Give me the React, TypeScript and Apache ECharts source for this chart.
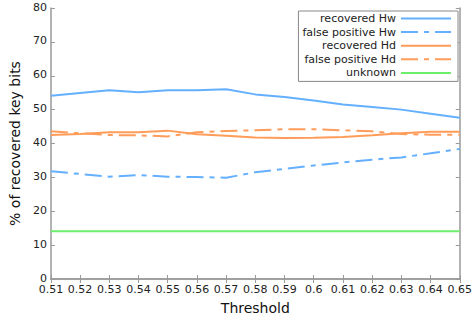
import React, { useEffect, useRef } from "react";
import * as echarts from "echarts";

const thresholds = ["0.51", "0.52", "0.53", "0.54", "0.55", "0.56", "0.57", "0.58", "0.59", "0.6", "0.61", "0.62", "0.63", "0.64", "0.65"];
const recoveredHw = [54.1, 54.9, 55.7, 55.1, 55.7, 55.7, 56.0, 54.5, 53.7, 52.7, 51.5, 50.8, 50.0, 48.8, 47.6];
const falsePositiveHw = [31.8, 31.0, 30.2, 30.7, 30.2, 30.1, 29.9, 31.5, 32.5, 33.5, 34.4, 35.2, 35.9, 37.1, 38.4];
const recoveredHd = [42.5, 42.8, 43.3, 43.3, 43.8, 42.7, 42.3, 41.8, 41.6, 41.7, 41.9, 42.4, 43.0, 43.5, 43.5];
const falsePositiveHd = [43.6, 43.0, 42.5, 42.4, 42.1, 43.3, 43.7, 43.9, 44.2, 44.2, 43.9, 43.6, 42.8, 42.6, 42.6];
const unknown = [14.1, 14.1, 14.1, 14.1, 14.1, 14.1, 14.1, 14.1, 14.1, 14.1, 14.1, 14.1, 14.1, 14.1, 14.1];
const yTicks = [0, 80, 10];

const BLUE = "#64b0ff";
const ORANGE = "#ff9c5a";
const GREEN = "#6cee6c";
const AXIS = "#9a9a9a";
const FONT = "DejaVu Sans";
const DASHDOT = [17, 6, 5, 6];

export default function App() {
  const ref = useRef<HTMLDivElement>(null);
  useEffect(() => {
    const chart = echarts.init(ref.current!, null, { renderer: "svg" });
    const mk = (name: string, data: number[], color: string, dash: any) => ({
      name,
      type: "line",
      data,
      symbol: "none",
      smooth: false,
      lineStyle: { color, width: 2, type: dash },
      itemStyle: { color },
      xAxisIndex: 0,
      yAxisIndex: 0,
    });
    chart.setOption({
      animation: false,
      textStyle: { fontFamily: FONT },
      grid: { left: 39, top: 8, right: 11, bottom: 35 },
      legend: {
        orient: "vertical",
        right: 17,
        top: 11,
        align: "right",
        itemWidth: 50,
        itemHeight: 10,
        itemGap: 2.6,
        padding: [2, 6, 3, 4],
        borderColor: "#888",
        borderWidth: 1,
        backgroundColor: "#fff",
        borderRadius: 0,
        itemStyle: { opacity: 0 },
        textStyle: { fontFamily: FONT, fontSize: 11, color: "#222", width: 96, align: "right", padding: [0, 0, 0, 0] },
        data: ["recovered Hw", "false positive Hw", "recovered Hd", "false positive Hd", "unknown"],
      },
      xAxis: [
        {
          type: "category",
          data: thresholds,
          boundaryGap: false,
          name: "Threshold",
          nameLocation: "middle",
          nameGap: 22,
          nameTextStyle: { fontFamily: FONT, fontSize: 14, color: "#111" },
          axisLine: { lineStyle: { color: AXIS, width: 1.5 } },
          axisTick: { inside: true, length: 4, lineStyle: { color: AXIS } },
          axisLabel: { fontFamily: FONT, fontSize: 11, color: "#222", margin: 5, interval: 0 },
          splitLine: { show: false },
        },
        {
          type: "category",
          data: thresholds,
          boundaryGap: false,
          position: "top",
          axisLine: { lineStyle: { color: AXIS, width: 1.5 } },
          axisTick: { inside: true, length: 4, lineStyle: { color: AXIS }, interval: 0 },
          axisLabel: { show: false },
          splitLine: { show: false },
        },
      ],
      yAxis: [
        {
          type: "value",
          min: yTicks[0],
          max: yTicks[1],
          interval: yTicks[2],
          name: "% of recovered key bits",
          nameLocation: "middle",
          nameGap: 24,
          nameTextStyle: { fontFamily: FONT, fontSize: 14, color: "#111" },
          axisLine: { show: true, lineStyle: { color: AXIS, width: 1.5 } },
          axisTick: { show: true, inside: true, length: 4, lineStyle: { color: AXIS } },
          axisLabel: { fontFamily: FONT, fontSize: 11, color: "#222", margin: 4, verticalAlign: "bottom", lineHeight: 14, padding: [0, 0, -6, 0] },
          splitLine: { show: false },
        },
        {
          type: "value",
          min: yTicks[0],
          max: yTicks[1],
          interval: yTicks[2],
          position: "right",
          axisLine: { show: true, lineStyle: { color: AXIS, width: 1.5 } },
          axisTick: { show: true, inside: true, length: 4, lineStyle: { color: AXIS } },
          axisLabel: { show: false },
          splitLine: { show: false },
        },
      ],
      series: [
        mk("recovered Hw", recoveredHw, BLUE, "solid"),
        mk("false positive Hw", falsePositiveHw, BLUE, DASHDOT),
        mk("recovered Hd", recoveredHd, ORANGE, "solid"),
        mk("false positive Hd", falsePositiveHd, ORANGE, DASHDOT),
        mk("unknown", unknown, GREEN, "solid"),
      ],
    });
    return () => chart.dispose();
  }, []);
  return <div ref={ref} style={{ width: 475, height: 320, position: "absolute", left: 0, top: 0 }} />;
}
